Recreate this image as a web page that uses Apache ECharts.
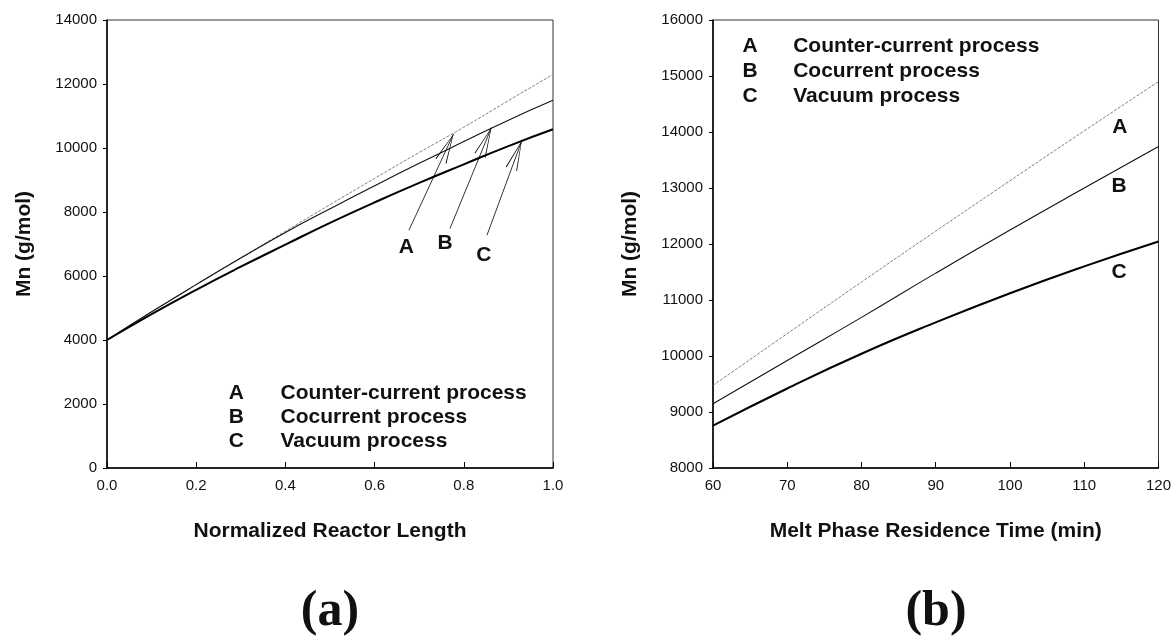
<!DOCTYPE html>
<html>
<head>
<meta charset="utf-8">
<script src="https://cdn.jsdelivr.net/npm/echarts@6/dist/echarts.min.js"></script>
<style>
  html, body { margin: 0; padding: 0; background: #fff; }
  #chart { width: 1174px; height: 642px; }
</style>
</head>
<body>
<div id="chart"></div>
<script>
// (a) Mn vs normalized reactor length
const lengthX = [0, 0.1, 0.2, 0.3, 0.4, 0.5, 0.6, 0.7, 0.8, 0.9, 1.0];
const lengthA = [4000, 4880, 5740, 6570, 7400, 8230, 9050, 9860, 10650, 11480, 12300];
const lengthB = [4000, 4880, 5730, 6560, 7360, 8100, 8820, 9520, 10200, 10870, 11490];
const lengthC = [4000, 4810, 5570, 6290, 6980, 7660, 8300, 8910, 9490, 10060, 10584];

// (b) Mn vs melt phase residence time
const timeX = [60, 70, 80, 90, 100, 110, 120];
const timeA = [9475, 10400, 11320, 12230, 13130, 14020, 14900];
const timeB = [9148, 9920, 10690, 11480, 12250, 13000, 13740];
const timeC = [8755, 9420, 10040, 10600, 11120, 11600, 12045];

const processNames = ['Counter-current process', 'Cocurrent process', 'Vacuum process'];
const processKeys = ['A', 'B', 'C'];

// arrows in (a): [label x, label y, start x, start y, tip x, tip y]
const arrowsA = [
  [0.671, 6912, 0.677, 7431, 0.777, 10440],
  [0.758, 7016, 0.769, 7483, 0.862, 10640],
  [0.845, 6652, 0.852, 7275, 0.930, 10225],
];
// curve labels in (b)
const labelsB = [[114.8, 14079], [114.7, 13038], [114.7, 11497]];

// legend anchors: [key x, text x, first row y, row step]
const legendA = [0.29, 0.389, 2344, 750];
const legendB = [65, 70.8, 15524, 446];

const chart = echarts.init(document.getElementById('chart'));

const font = 'Liberation Sans, Arial, sans-serif';
const pairs = (xs, ys) => xs.map((x, i) => [x, ys[i]]);
const styleA = { color: '#808080', width: 1, type: [3, 1.5] };
const styleB = { color: '#111', width: 1.1 };
const styleC = { color: '#000', width: 2 };

// open arrow head, tip at the center of its box
const arrowHead = 'path://M6,30 L0,60 L0.9,60 L6,32.6 L11.1,60 L12,60 Z M6,0 L6.02,0 L6,0.02 Z';

function xAxis(gridIndex, min, max, interval, name, fmt) {
  return {
    gridIndex, type: 'value', min, max, interval, name,
    nameLocation: 'middle', nameGap: 53,
    nameTextStyle: { fontFamily: font, fontWeight: 'bold', fontSize: 21, color: '#111' },
    axisLine: { show: true, lineStyle: { color: '#000', width: 1.5 } },
    axisTick: { show: true, inside: true, length: 6, lineStyle: { color: '#000' } },
    axisLabel: { fontFamily: font, fontSize: 15, color: '#111', margin: 10, formatter: fmt },
    splitLine: { show: false },
  };
}

function yAxis(gridIndex, min, max, interval) {
  return {
    gridIndex, type: 'value', min, max, interval, name: 'Mn (g/mol)',
    nameLocation: 'middle', nameGap: 72, nameRotate: 90,
    nameTextStyle: { fontFamily: font, fontWeight: 'bold', fontSize: 21, color: '#111' },
    axisLine: { show: true, lineStyle: { color: '#000', width: 1.5 } },
    axisTick: { show: true, inside: false, length: 4, lineStyle: { color: '#000' } },
    axisLabel: { fontFamily: font, fontSize: 15, color: '#111', margin: 10, formatter: (v) => String(v) },
    splitLine: { show: false },
  };
}

function line(name, data, lineStyle, idx, extra) {
  return Object.assign({
    name, type: 'line', data, xAxisIndex: idx, yAxisIndex: idx,
    smooth: true, showSymbol: false, symbol: 'none', lineStyle,
    animation: false, z: 3,
  }, extra || {});
}

chart.setOption({
  animation: false,
  backgroundColor: '#fff',
  grid: [
    { left: 107, top: 20, width: 446, height: 448, show: true, borderColor: '#333', borderWidth: 1 },
    { left: 713, top: 20, width: 446, height: 448, show: true, borderColor: '#333', borderWidth: 1 },
  ],
  xAxis: [
    xAxis(0, 0, 1, 0.2, 'Normalized Reactor Length', (v) => v.toFixed(1)),
    xAxis(1, 60, 120, 10, 'Melt Phase Residence Time (min)', (v) => String(v)),
  ],
  yAxis: [yAxis(0, 0, 14000, 2000), yAxis(1, 8000, 16000, 1000)],
  series: [
    line('A', pairs(lengthX, lengthA), styleA, 0),
    line('B', pairs(lengthX, lengthB), styleB, 0),
    line('C', pairs(lengthX, lengthC), styleC, 0, {
      markLine: {
        silent: true,
        animation: false,
        label: { show: false },
        lineStyle: { color: '#000', width: 0.8, type: 'solid' },
        symbol: ['none', arrowHead],
        data: arrowsA.map((a) => [
          { coord: [a[2], a[3]], symbol: 'none' },
          { coord: [a[4], a[5]], symbol: arrowHead, symbolSize: [12, 60] },
        ]),
      },
    }),
    line('A', pairs(timeX, timeA), styleA, 1),
    line('B', pairs(timeX, timeB), styleB, 1),
    line('C', pairs(timeX, timeC), styleC, 1),
  ],
});

// text annotations placed through the axes
const txt = (pos, text, align, fontSpec) => ({
  type: 'text', x: pos[0], y: pos[1], silent: true,
  style: {
    text, fill: '#111', font: fontSpec,
    textAlign: align, textVerticalAlign: 'middle',
  },
});

const toPx = (g, p) => chart.convertToPixel({ gridIndex: g }, p);
const labelFont = 'bold 21px ' + font;
const legendFont = 'bold 21px ' + font;
const panelFont = 'bold 50px Liberation Serif, Times New Roman, serif';
const graphics = [];

arrowsA.forEach((a, i) => graphics.push(txt(toPx(0, [a[0], a[1]]), processKeys[i], 'center', labelFont)));
labelsB.forEach((p, i) => graphics.push(txt(toPx(1, p), processKeys[i], 'center', labelFont)));

[[0, legendA], [1, legendB]].forEach(([g, lg]) => {
  processNames.forEach((nm, i) => {
    const y = lg[2] - i * lg[3];
    graphics.push(txt(toPx(g, [lg[0], y]), processKeys[i], 'center', legendFont));
    graphics.push(txt(toPx(g, [lg[1], y]), nm, 'left', legendFont));
  });
});

graphics.push(txt([330, 612], '(a)', 'center', panelFont));
graphics.push(txt([936, 612], '(b)', 'center', panelFont));

chart.setOption({ graphic: graphics });
</script>
</body>
</html>
